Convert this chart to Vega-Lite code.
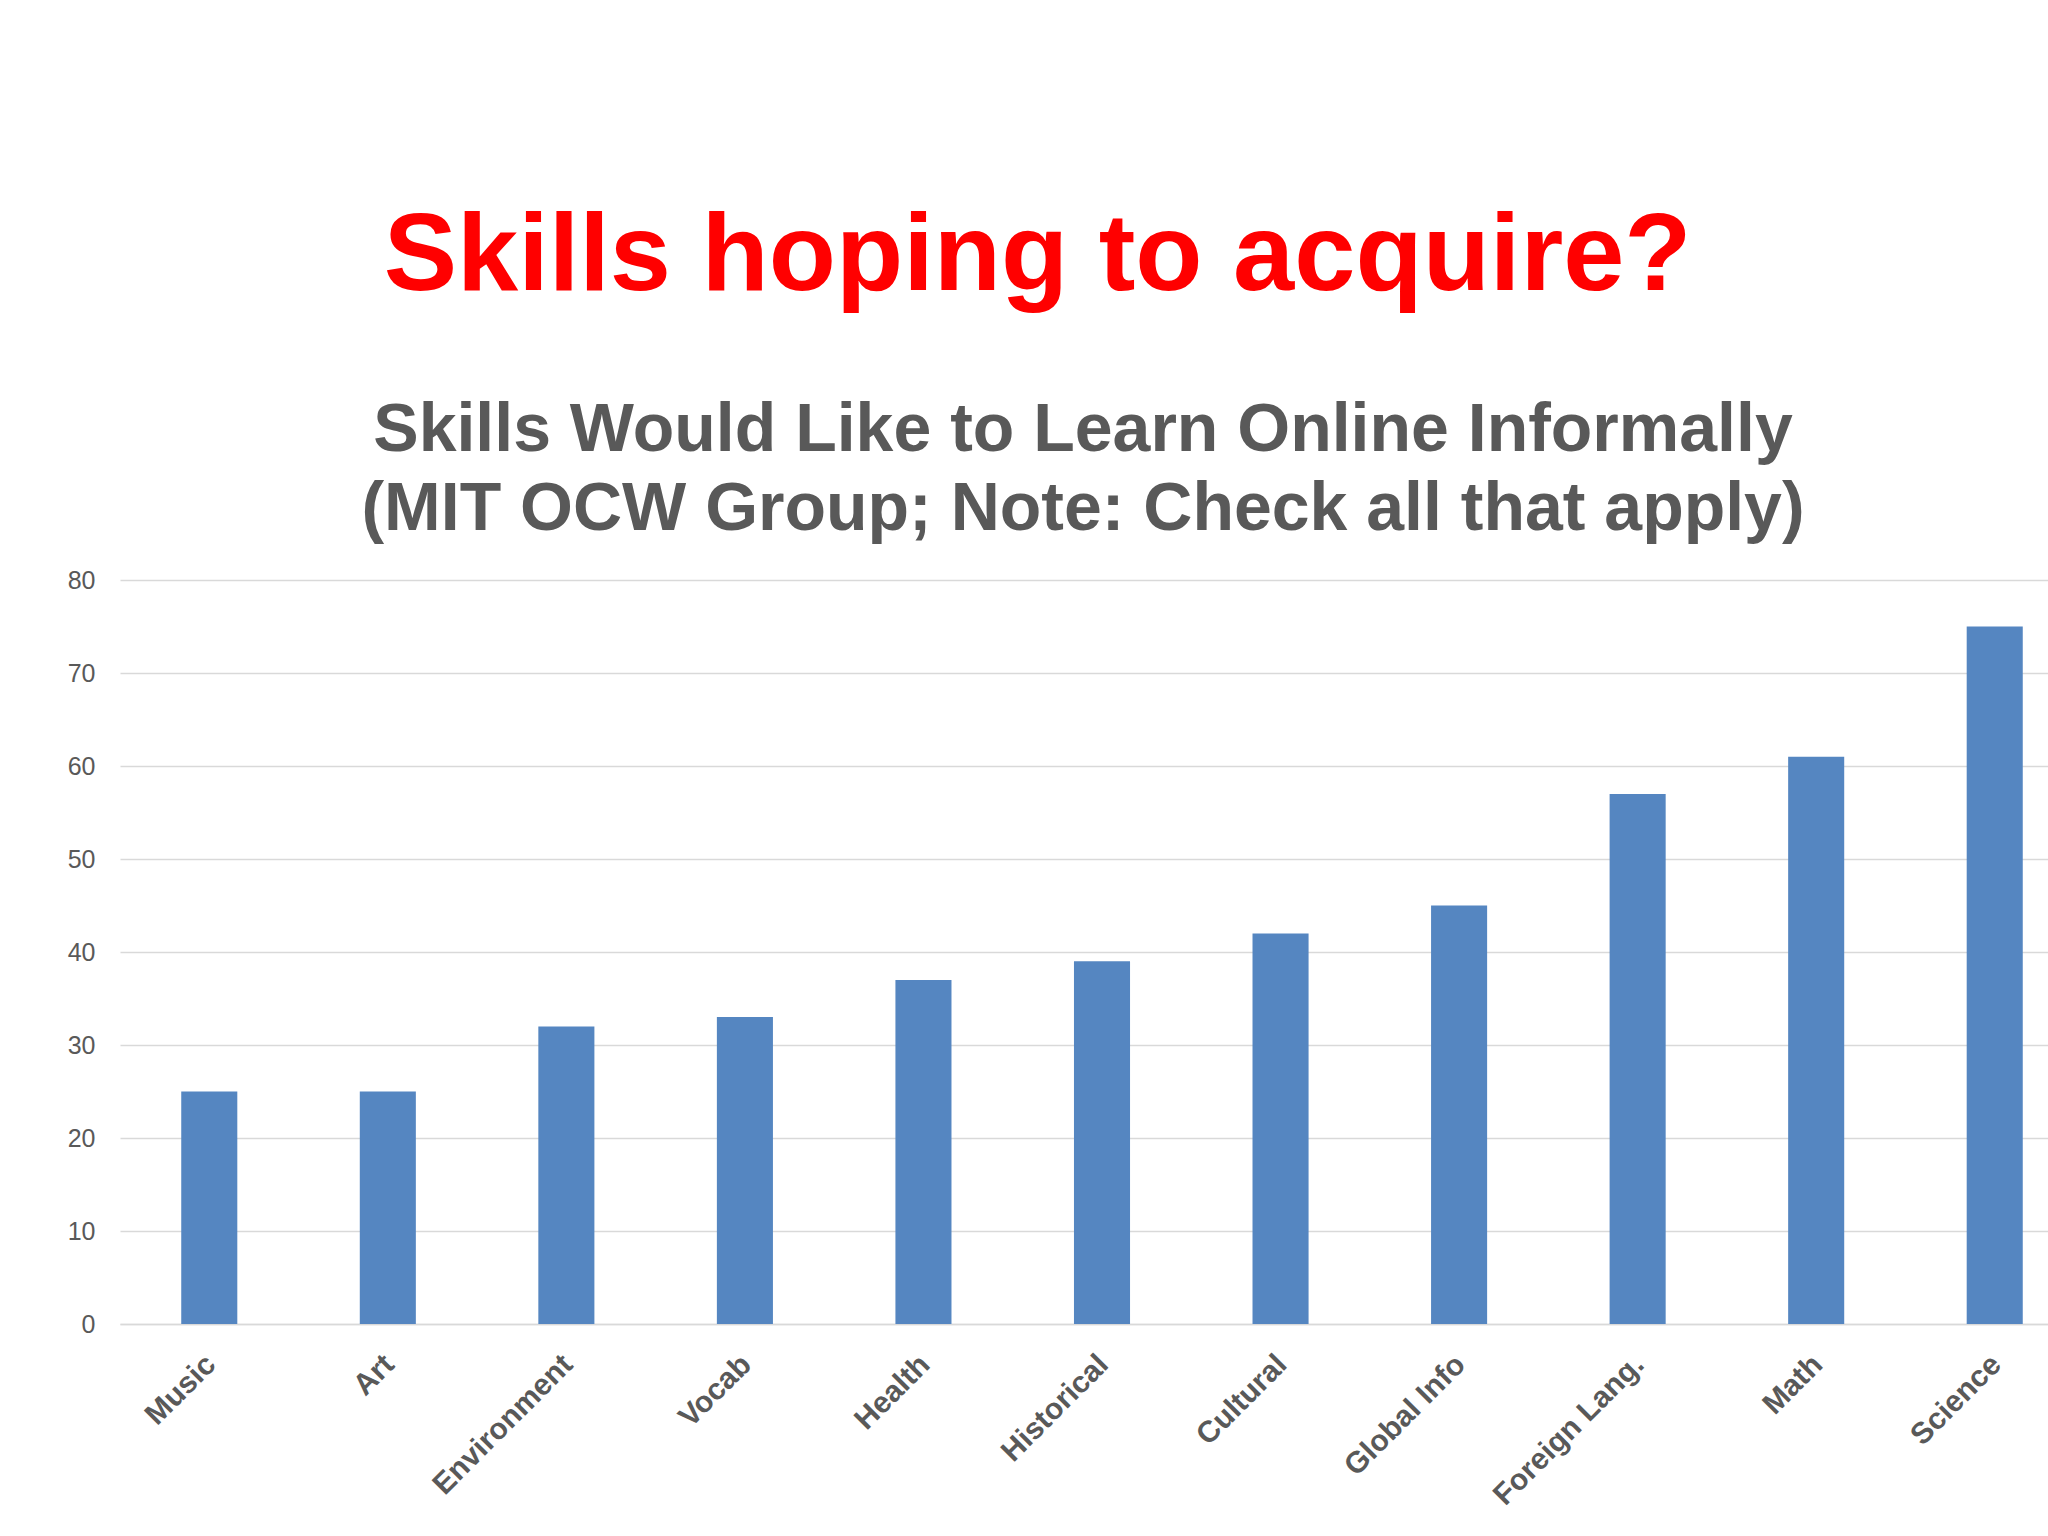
{
  "$schema": "https://vega.github.io/schema/vega-lite/v6.json",
  "description": "Skills respondents would like to learn online informally.",
  "background": "white",
  "padding": {"left": 67, "top": 202, "right": 0, "bottom": 0},
  "title": {
    "text": "Skills hoping to acquire?",
    "font": "Liberation Sans",
    "fontSize": 110,
    "fontWeight": "bold",
    "color": "#ff0000",
    "anchor": "middle",
    "dx": -38,
    "offset": 84
  },
  "vconcat": [
    {
      "title": {
        "text": ["Skills Would Like to Learn Online Informally", "(MIT OCW Group; Note: Check all that apply)"],
        "font": "Liberation Sans",
        "fontSize": 68,
        "fontWeight": "bold",
        "lineHeight": 79,
        "color": "#595959",
        "anchor": "middle",
        "dx": -19,
        "offset": 24
      },
      "width": 1964,
      "height": 744,
      "data": {
        "values": [
          {"skill": "Music", "count": 25},
          {"skill": "Art", "count": 25},
          {"skill": "Environment", "count": 32},
          {"skill": "Vocab", "count": 33},
          {"skill": "Health", "count": 37},
          {"skill": "Historical", "count": 39},
          {"skill": "Cultural", "count": 42},
          {"skill": "Global Info", "count": 45},
          {"skill": "Foreign Lang.", "count": 57},
          {"skill": "Math", "count": 61},
          {"skill": "Science", "count": 75}
        ]
      },
      "mark": {"type": "bar", "color": "#5586c1"},
      "encoding": {
        "x": {
          "field": "skill",
          "type": "nominal",
          "sort": null,
          "scale": {"paddingInner": 0.686, "paddingOuter": 0.343},
          "axis": {
            "title": null,
            "labelAngle": -45,
            "labelFont": "Liberation Sans",
            "labelFontSize": 30,
            "labelFontWeight": "bold",
            "labelColor": "#595959",
            "labelPadding": 25,
            "labelOffset": -9,
            "labelLimit": 500,
            "ticks": false,
            "domainColor": "#d9d9d9",
            "domainWidth": 1.5
          }
        },
        "y": {
          "field": "count",
          "type": "quantitative",
          "scale": {"domain": [0, 80]},
          "axis": {
            "title": null,
            "values": [0, 10, 20, 30, 40, 50, 60, 70, 80],
            "labelFont": "Liberation Sans",
            "labelFontSize": 25,
            "labelColor": "#595959",
            "labelPadding": 25,
            "ticks": false,
            "domain": false,
            "gridColor": "#d9d9d9",
            "gridWidth": 1.5
          }
        }
      }
    }
  ],
  "config": {
    "view": {"stroke": null}
  }
}
